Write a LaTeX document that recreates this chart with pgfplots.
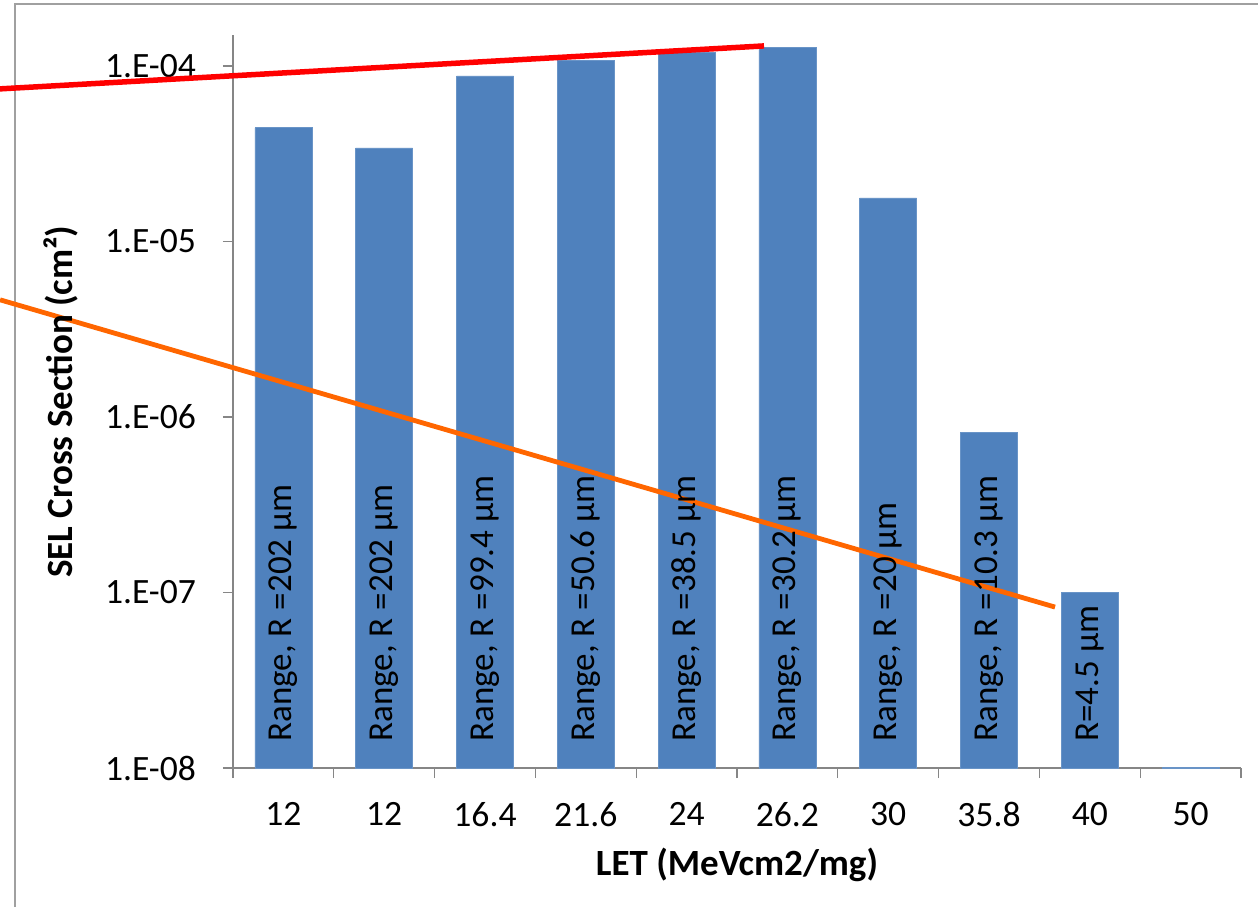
\documentclass[border=0pt]{standalone}
\usepackage{fontspec}
\setmainfont{Carlito}
\usepackage{pgfplots}
\pgfplotsset{compat=1.18}
\definecolor{barblue}{HTML}{4F81BD}
\definecolor{axgray}{HTML}{868686}
\definecolor{framegray}{HTML}{A0A0A0}
\definecolor{lineorange}{HTML}{FF6600}
\begin{document}
\begin{tikzpicture}
\useasboundingbox (-116.5pt,-69.5pt) rectangle (512.5pt,384pt);
\draw[framegray, line width=0.75pt] (-109pt,-69.5pt) -- (-109pt,382pt) -- (512.5pt,382pt);
\begin{axis}[
  at={(0pt,0pt)}, anchor=south west,
  scale only axis, width=504pt, height=366.5pt,
  clip=false,
  xmin=-0.5, xmax=9.5,
  ymode=log, ymin=1e-8, ymax=1.5e-4, log origin=infty,
  axis lines=left,
  axis line style={-, draw=axgray, line width=0.6pt},
  xtick={-0.5,0.5,...,9.5},
  x tick label as interval,
  xticklabels={12,12,16.4,21.6,24,26.2,30,35.8,40,50},
  ytick={1e-8,1e-7,1e-6,1e-5,1e-4},
  yticklabels={1.E-08,1.E-07,1.E-06,1.E-05,1.E-04},
  yminorticks=false, xminorticks=false,
  tick align=outside, major tick length=5pt,
  tick style={draw=axgray, line width=0.6pt},
  ticklabel style={font=\fontsize{17.8}{21}\selectfont, text=black},
  xticklabel style={yshift=-8.5pt},
  yticklabel style={xshift=-10pt},
  xlabel={LET (MeVcm2/mg)},
  ylabel={SEL Cross Section (cm²)},
  xlabel style={font=\bfseries\fontsize{18.5}{22}\selectfont, at={(axis description cs:0.5,-0.1323)}, anchor=center},
  ylabel style={font=\bfseries\fontsize{18.5}{22}\selectfont, at={(axis description cs:-0.1706,0.5)}, anchor=center},
]
\addplot[ybar, bar width=28.5pt, fill=barblue, draw=barblue!85!white, line width=0.4pt]
  coordinates {(0,4.44e-5) (1,3.41e-5) (2,8.77e-5) (3,1.08e-4) (4,1.19e-4)
               (5,1.28e-4) (6,1.77e-5) (7,8.2e-7) (8,1.0e-7) (9,1.01e-8)};
\addplot[draw=none, mark=none, nodes near coords, point meta=explicit symbolic,
  nodes near coords style={rotate=90, anchor=west, inner sep=0pt, text=black,
    font=\fontsize{17.5}{21}\selectfont}]
  coordinates {(0,1.41e-8) [Range, R =202 µm] (1,1.41e-8) [Range, R =202 µm]
    (2,1.41e-8) [Range, R =99.4 µm] (3,1.41e-8) [Range, R =50.6 µm]
    (4,1.41e-8) [Range, R =38.5 µm] (5,1.41e-8) [Range, R =30.2 µm]
    (6,1.41e-8) [Range, R =20 µm] (7,1.41e-8) [Range, R =10.3 µm]
    (8,1.41e-8) [R=4.5 µm]};
\addplot[red, line width=2.75pt, mark=none] coordinates {(-2.811,7.40e-5) (4.768,1.30e-4)};
\addplot[lineorange, line width=2.4pt, mark=none] coordinates {(-2.811,4.65e-6) (7.655,8.26e-8)};
\end{axis}
\end{tikzpicture}
\end{document}
